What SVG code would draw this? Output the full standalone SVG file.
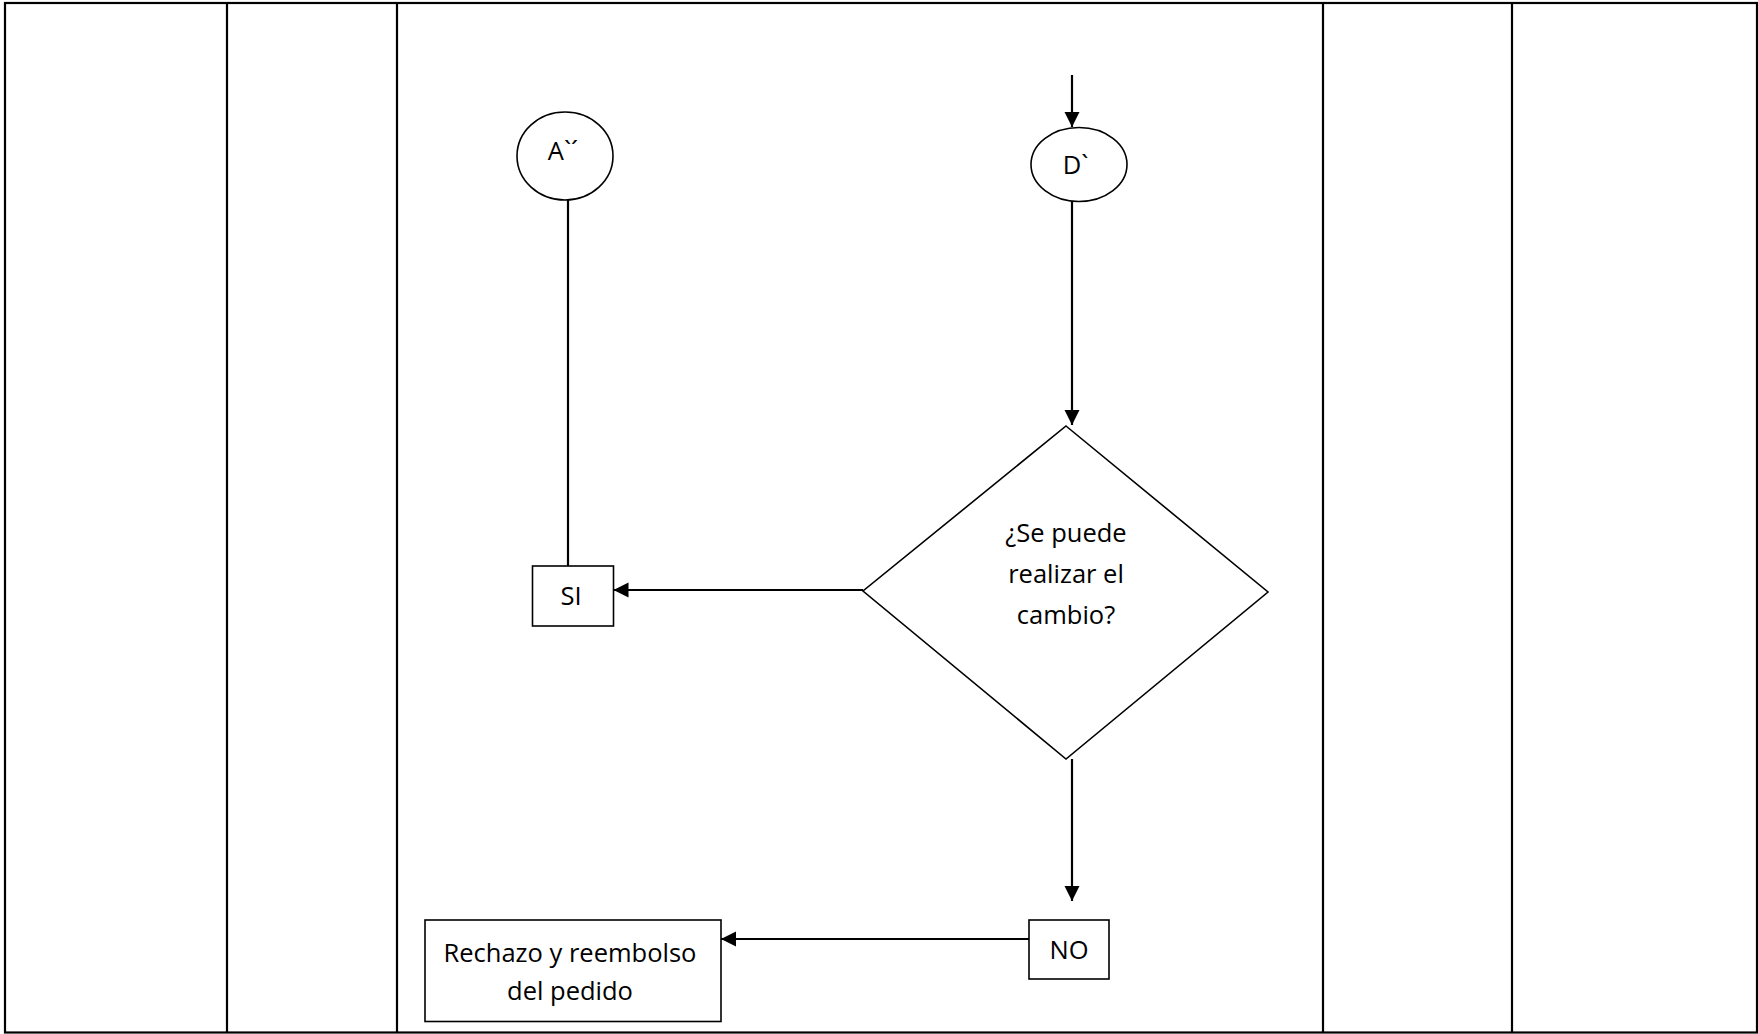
<svg xmlns="http://www.w3.org/2000/svg" width="1758" height="1034" viewBox="0 0 1758 1034">
<style>
.grid{fill:none;stroke:#000;stroke-width:2.2}
.shape{fill:#fff;stroke:#000;stroke-width:1.6}
.conn{fill:none;stroke:#000;stroke-width:2.2}
.lbl{font-family:"Open Sans","Noto Sans",sans-serif;font-size:25.5px;fill:#000;text-anchor:middle}
</style>
<defs>
<marker id="arr" markerUnits="userSpaceOnUse" markerWidth="16" markerHeight="16" viewBox="0 0 16 16" refX="15" refY="8" orient="auto">
<path d="M0,0.5 L15,8 L0,15.5 Z" fill="#000"/>
</marker>
</defs>
<rect width="1758" height="1034" fill="#fff"/>
<g id="table">
<rect class="grid" x="5" y="3" width="1752" height="1029.5"/>
<line class="grid" x1="227" y1="3" x2="227" y2="1032.5"/>
<line class="grid" x1="397" y1="3" x2="397" y2="1032.5"/>
<line class="grid" x1="1323" y1="3" x2="1323" y2="1032.5"/>
<line class="grid" x1="1512" y1="3" x2="1512" y2="1032.5"/>
</g>
<g id="connectors">
<line class="conn" x1="1072" y1="75" x2="1072" y2="127" marker-end="url(#arr)"/>
<line class="conn" x1="1072" y1="202" x2="1072" y2="425" marker-end="url(#arr)"/>
<line class="conn" x1="863" y1="590" x2="613.5" y2="590" marker-end="url(#arr)"/>
<line class="conn" x1="568" y1="200" x2="568" y2="566"/>
<line class="conn" x1="1072" y1="759" x2="1072" y2="901" marker-end="url(#arr)"/>
<line class="conn" x1="1029" y1="939" x2="721" y2="939" marker-end="url(#arr)"/>
</g>
<g id="node-a">
<ellipse class="shape" cx="565" cy="156" rx="48" ry="44"/>
<text class="lbl" x="563" y="160">A`´</text>
</g>
<g id="node-d">
<ellipse class="shape" cx="1079" cy="164.5" rx="48" ry="37"/>
<text class="lbl" x="1075.5" y="174">D`</text>
</g>
<g id="node-decision">
<polygon class="shape" points="1066,426 1268,592 1066,759 863,591"/>
<text class="lbl" x="1066" y="542">¿Se puede</text>
<text class="lbl" x="1066" y="583">realizar el</text>
<text class="lbl" x="1066" y="624">cambio?</text>
</g>
<g id="node-si">
<rect class="shape" x="532.5" y="566" width="81" height="60"/>
<text class="lbl" x="571" y="605">SI</text>
</g>
<g id="node-no">
<rect class="shape" x="1029" y="920" width="80" height="59"/>
<text class="lbl" x="1069" y="959">NO</text>
</g>
<g id="node-rechazo">
<rect class="shape" x="425" y="920" width="296" height="101.5"/>
<text class="lbl" x="570" y="962">Rechazo y reembolso</text>
<text class="lbl" x="570" y="1000">del pedido</text>
</g>
</svg>
